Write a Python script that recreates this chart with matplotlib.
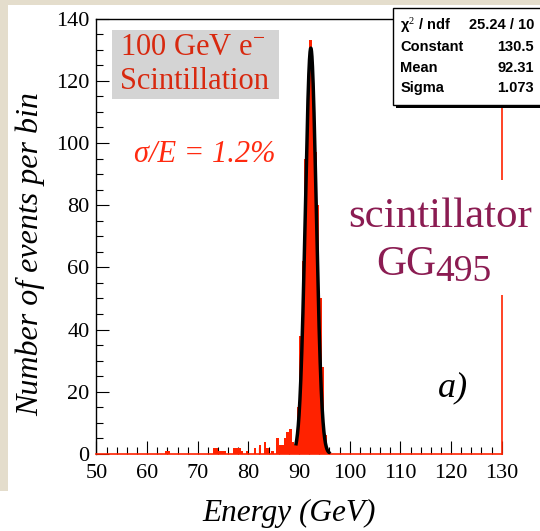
import numpy as np
import matplotlib
matplotlib.use("Agg")
import matplotlib.pyplot as plt
from matplotlib.patches import Rectangle

plt.rcParams['font.family'] = ['Liberation Serif', 'DejaVu Serif']
plt.rcParams['mathtext.fontset'] = 'custom'
plt.rcParams['mathtext.rm'] = 'Liberation Serif'
plt.rcParams['mathtext.it'] = 'Liberation Serif:italic'

# histogram: 0.5 GeV bins from 50 to 130, only non-empty bins listed
bin_width = 0.5
x_min, x_max = 50, 130
bin_left = [63.5, 64.0, 73.0, 73.5, 74.0, 74.5, 75.0, 77.0, 77.5, 78.0, 78.5,
            79.5, 81.0, 82.0, 83.0, 83.5, 84.5, 85.5, 86.0, 86.5, 87.0, 87.5,
            88.0, 88.5, 89.0, 89.5, 90.0, 90.5, 91.0, 91.5, 92.0, 92.5, 93.0,
            93.5, 94.0, 94.5, 95.0]
counts = [1, 1, 2, 2, 1, 1, 1, 2, 2, 2, 1,
          1, 2, 3, 4, 2, 1, 5, 3, 3, 5, 7,
          8, 4, 3, 15, 38, 62, 95, 120, 133, 122, 97,
          80, 50, 28, 6]

# gaussian fit shown in the stats box
fit_const = 130.5
fit_mean = 92.31
fit_sigma = 1.073
fit_lo, fit_hi = 89.4, 95.9

stats_names = ["χ$^{2}$ / ndf", "Constant", "Mean", "Sigma"]
stats_values = ["25.24 / 10", "130.5", "92.31", "1.073"]

edges = np.arange(x_min, x_max + bin_width / 2, bin_width)
values = np.zeros(len(edges) - 1)
for b, c in zip(bin_left, counts):
    values[int(round((b - x_min) / bin_width))] = c

fig = plt.figure(figsize=(5.4, 5.31), dpi=100)
fig.patch.set_facecolor('#e4ddcc')
fig.patches.append(Rectangle((0.014, 0.0), 1.0, 0.9906, transform=fig.transFigure,
                             facecolor='white', edgecolor='none', zorder=-10))
fig.patches.append(Rectangle((0.0, 0.0), 0.02, 0.075, transform=fig.transFigure,
                             facecolor='white', edgecolor='none', zorder=-10))

ax = fig.add_axes([0.1787, 0.145, 0.7504, 0.82])
ax.set_facecolor('white')

ax.stairs(values, edges, fill=True, color='#ff2200', zorder=2)
xf = np.linspace(fit_lo, fit_hi, 300)
ax.plot(xf, fit_const * np.exp(-0.5 * ((xf - fit_mean) / fit_sigma) ** 2),
        color='black', lw=2.5, zorder=3)

ax.set_xlim(x_min, x_max)
ax.set_ylim(0, 140)
ax.set_xticks(np.arange(50, 131, 10))
ax.set_xticks(np.arange(50, 131, 2), minor=True)
ax.set_yticks(np.arange(0, 141, 20))
ax.set_yticks(np.arange(0, 141, 5), minor=True)
ax.tick_params(which='both', direction='in', top=False, right=False,
               labelsize=16, width=0.8, color='black')
ax.tick_params(axis='x', which='major', length=9.5, pad=7)
ax.tick_params(axis='x', which='minor', length=4.7)
ax.tick_params(axis='y', which='major', length=9.0, pad=5)
ax.tick_params(axis='y', which='minor', length=4.7)

for side in ['left', 'top']:
    ax.spines[side].set_color('black')
    ax.spines[side].set_linewidth(1.0)
for side in ['bottom', 'right']:
    ax.spines[side].set_color('#ff2200')
    ax.spines[side].set_linewidth(1.2)

ax.set_xlabel('Energy (GeV)', fontsize=22.5, style='italic')
ax.xaxis.set_label_coords(0.475, -0.1355)
ax.xaxis.label.set_verticalalignment('center')
ax.set_ylabel('Number of events per bin', fontsize=23, style='italic')
ax.yaxis.set_label_coords(-0.162, 0.459)
ax.yaxis.label.set_verticalalignment('center')

# grey label box
ax.add_patch(Rectangle((0.038, 0.815), 0.412, 0.159, transform=ax.transAxes,
                       facecolor='#d4d4d4', edgecolor='none', zorder=4))
ax.text(0.058, 0.934, '100 GeV e$^{-}$', transform=ax.transAxes, fontsize=22,
        color='#d8290f', ha='left', va='center', zorder=5)
ax.text(0.058, 0.856, 'Scintillation', transform=ax.transAxes, fontsize=22,
        color='#d8290f', ha='left', va='center', zorder=5)
ax.text(0.268, 0.689, 'σ/E = 1.2%', transform=ax.transAxes, fontsize=22,
        style='italic', color='#ff2a10', ha='center', va='center', zorder=5)

# white box behind the scintillator name
ax.add_patch(Rectangle((0.60, 0.366), 0.5, 0.264, transform=ax.transAxes,
                       facecolor='white', edgecolor='none', zorder=4, clip_on=False))
ax.text(0.848, 0.545, 'scintillator', transform=ax.transAxes, fontsize=31,
        color='#8b1c52', ha='center', va='center', zorder=5, clip_on=False)
ax.text(0.690, 0.411, 'GG', transform=ax.transAxes, fontsize=30,
        color='#8b1c52', ha='left', va='baseline', zorder=5, clip_on=False)
ax.text(0.836, 0.397, '495', transform=ax.transAxes, fontsize=27,
        color='#8b1c52', ha='left', va='baseline', zorder=5, clip_on=False)
ax.text(0.880, 0.152, 'a)', transform=ax.transAxes, fontsize=26,
        style='italic', color='black', ha='center', va='center', zorder=5)

# stats box
fig.patches.append(Rectangle((0.734, 0.797), 0.3, 0.182, transform=fig.transFigure,
                             facecolor='black', edgecolor='none', zorder=5))
fig.patches.append(Rectangle((0.728, 0.802), 0.3, 0.182, transform=fig.transFigure,
                             facecolor='white', edgecolor='black', lw=1.0, zorder=6))
rows_y = [0.952, 0.911, 0.8725, 0.835]
for name, val, yy in zip(stats_names, stats_values, rows_y):
    fig.text(0.741, yy, name, fontsize=10.5, fontweight='bold', family='Liberation Sans',
             ha='left', va='center', zorder=7)
    fig.text(0.989, yy, val, fontsize=10.5, fontweight='bold', family='Liberation Sans',
             ha='right', va='center', zorder=7)

fig.savefig('out.png', dpi=100, facecolor=fig.get_facecolor())
